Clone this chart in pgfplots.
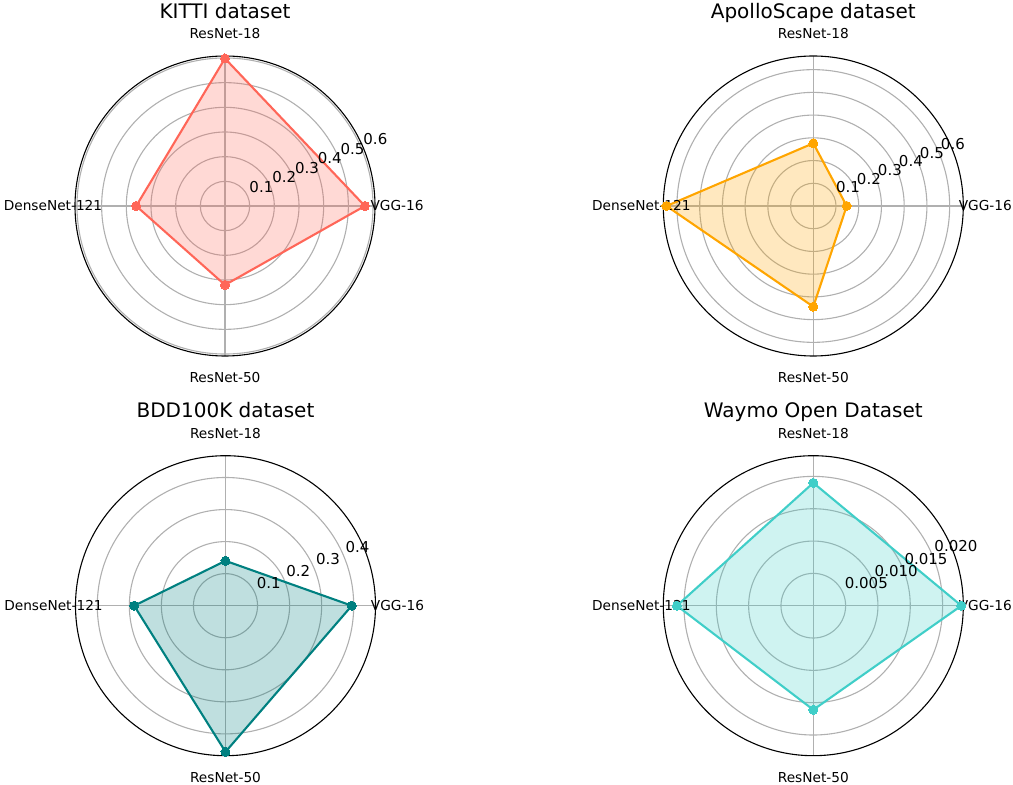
\documentclass[border=0pt]{standalone}
\usepackage{fontspec}
\setmainfont{DejaVu Sans}
\usepackage{pgfplots}
\pgfplotsset{compat=1.18}
\usepgfplotslibrary{polar}
\definecolor{cK}{RGB}{255,102,88}
\definecolor{cA}{RGB}{255,165,0}
\definecolor{cB}{RGB}{0,128,128}
\definecolor{cW}{RGB}{64,206,200}
\definecolor{gridc}{RGB}{176,176,176}
\pgfplotsset{radar/.style={scale only axis, width=300pt, height=300pt, anchor=center,
  ymin=0, xtick={0,90,180,270}, xticklabels={}, yticklabels={}, scaled y ticks=false,
  grid=major, major grid style={draw=gridc, line width=1.1pt},
  separate axis lines,
  x axis line style={black, line width=1.1pt}, y axis line style={draw=none},
  major tick length=0pt, clip=false},
  series/.style={draw=#1, line width=2.1pt, line join=round, fill=#1, fill opacity=0.25,
  mark=*, mark size=4.5pt, mark options={draw=#1, fill=#1, fill opacity=1, line width=0pt}}}
\newcommand{\rlab}[2]{\node[anchor=base west, inner sep=0pt, font=\fontsize{15}{18}\selectfont, xshift=1.5pt, yshift=4.5pt] at (axis cs:22.5,#1) {#2};}
\newcommand{\cats}[1]{%
  \node[inner sep=0pt, font=\fontsize{13.7}{16}\selectfont] at (axis cs:0,#1) {VGG-16};
  \node[inner sep=0pt, font=\fontsize{13.7}{16}\selectfont] at (axis cs:90,#1) {ResNet-18};
  \node[inner sep=0pt, font=\fontsize{13.7}{16}\selectfont] at (axis cs:180,#1) {DenseNet-121};
  \node[inner sep=0pt, font=\fontsize{13.7}{16}\selectfont] at (axis cs:270,#1) {ResNet-50};}
\newcommand{\ttl}[2]{\node[anchor=base, inner sep=0pt, font=\fontsize{20}{24}\selectfont] at (axis cs:90,#1) {#2};}
\begin{document}
\begin{tikzpicture}
% KITTI
\begin{polaraxis}[radar, at={(225pt,579pt)}, ymax=0.608, ytick={0.1,0.2,0.3,0.4,0.5,0.6}]
\addplot[series=cK] coordinates {(0,0.567) (90,0.598) (180,0.360) (270,0.320) (360,0.567)};
\rlab{0.1}{0.1}\rlab{0.2}{0.2}\rlab{0.3}{0.3}\rlab{0.4}{0.4}\rlab{0.5}{0.5}\rlab{0.6}{0.6}
\cats{0.6972}
\ttl{0.762}{KITTI dataset}
\end{polaraxis}
% ApolloScape
\begin{polaraxis}[radar, at={(813.3pt,579pt)}, ymax=0.66, ytick={0.1,0.2,0.3,0.4,0.5,0.6}]
\addplot[series=cA] coordinates {(0,0.147) (90,0.276) (180,0.646) (270,0.443) (360,0.147)};
\rlab{0.1}{0.1}\rlab{0.2}{0.2}\rlab{0.3}{0.3}\rlab{0.4}{0.4}\rlab{0.5}{0.5}\rlab{0.6}{0.6}
\cats{0.7568}
\ttl{0.8272}{ApolloScape dataset}
\end{polaraxis}
% BDD100K
\begin{polaraxis}[radar, at={(225.5pt,179.3pt)}, ymax=0.468, ytick={0.1,0.2,0.3,0.4}]
\addplot[series=cB] coordinates {(0,0.394) (90,0.140) (180,0.285) (270,0.456) (360,0.394)};
\rlab{0.1}{0.1}\rlab{0.2}{0.2}\rlab{0.3}{0.3}\rlab{0.4}{0.4}
\cats{0.5366}
\ttl{0.5866}{BDD100K dataset}
\end{polaraxis}
% Waymo
\begin{polaraxis}[radar, at={(813.3pt,179.3pt)}, ymax=0.0232, ytick={0.005,0.010,0.015,0.020}]
\addplot[series=cW] coordinates {(0,0.0229) (90,0.0190) (180,0.0211) (270,0.0161) (360,0.0229)};
\rlab{0.005}{0.005}\rlab{0.010}{0.010}\rlab{0.015}{0.015}\rlab{0.020}{0.020}
\cats{0.026603}
\ttl{0.029077}{Waymo Open Dataset}
\end{polaraxis}
\pgfresetboundingbox
\useasboundingbox (0,0) rectangle (1013pt,785pt);
\end{tikzpicture}
\end{document}
